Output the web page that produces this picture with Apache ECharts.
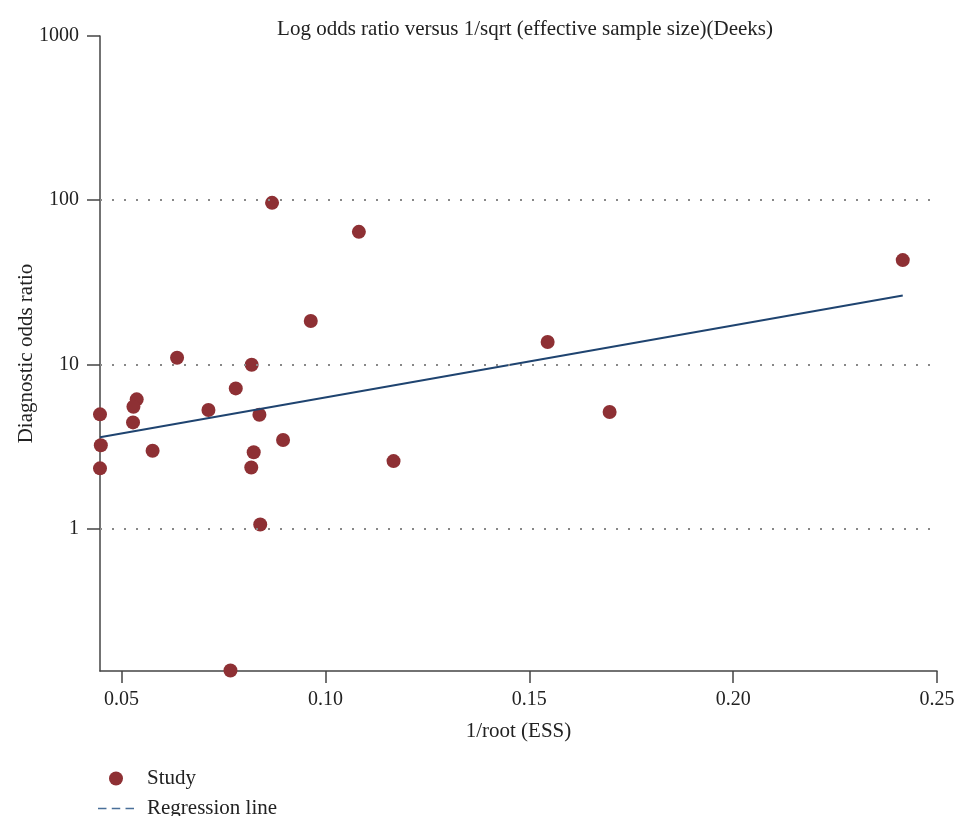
<!DOCTYPE html>
<html>
<head>
<meta charset="utf-8">
<script src="https://cdn.jsdelivr.net/npm/echarts@6/dist/echarts.min.js"></script>
<style>
  html, body { margin: 0; padding: 0; background: #fff; }
  #chart { width: 955px; height: 816px; }
</style>
</head>
<body>
<div id="chart"></div>
<script>
// studies: 1/sqrt(ESS) and diagnostic odds ratio
var essX = [0.0447, 0.0449, 0.0447, 0.0537, 0.0529, 0.0528, 0.0576, 0.0636, 0.0713, 0.0780, 0.0819,
            0.0838, 0.0824, 0.0818, 0.0896, 0.0840, 0.0767, 0.0869, 0.1082, 0.0964, 0.1167, 0.1545,
            0.1697, 0.2416];
var dorY = [4.97, 3.22, 2.33, 6.13, 5.53, 4.44, 2.98, 10.98, 5.28, 7.15, 9.96,
            4.94, 2.92, 2.36, 3.47, 1.06, 0.137, 96.4, 64.2, 18.4, 2.58, 13.7,
            5.13, 43.2];
// regression line end points
var regX = [0.0447, 0.2416];
var regY = [3.60, 26.3];

var xTicks = [0.05, 0.10, 0.15, 0.20, 0.25];
var yTicks = [1, 10, 100, 1000];
var yGrid = [1, 10, 100];

var serif = 'Liberation Serif';
var chart = echarts.init(document.getElementById('chart'));

var studyData = [];
for (var i = 0; i < dorY.length; i++) {
    studyData.push([essX[i], dorY[i]]);
}
var regData = regX.map(function (x, i) { return [x, regY[i]]; });

chart.setOption({
    animation: false,
    title: {
        text: 'Log odds ratio versus 1/sqrt (effective sample size)(Deeks)',
        left: 520, textAlign: 'center', top: 14,
        textStyle: {fontFamily: serif, fontSize: 21, fontWeight: 'normal', color: '#222'}
    },
    grid: {left: 100, right: 18, top: 36, bottom: 145, containLabel: false, outerBoundsMode: 'none'},
    legend: {
        orient: 'vertical', left: 93, top: 763, height: 120, itemGap: 9,
        itemWidth: 36, itemHeight: 14,
        textStyle: {fontFamily: serif, fontSize: 21, color: '#222', padding: [0, 0, 0, 8]},
        data: [
            {name: 'Study', icon: 'circle'},
            {name: 'Regression line', icon: 'path://M0,0h8v1.5h-8zM13,0h8v1.5h-8zM26,0h8v1.5h-8z',
                itemStyle: {color: '#4a6f99'}}
        ]
    },
    xAxis: {
        type: 'value', min: 0.0447, max: 0.25,
        name: '1/root (ESS)', nameLocation: 'middle', nameGap: 50,
        nameTextStyle: {fontFamily: serif, fontSize: 21, color: '#222'},
        axisLine: {lineStyle: {color: '#444', width: 1.5}},
        axisTick: {length: 12, customValues: xTicks, lineStyle: {color: '#444', width: 1.5}},
        axisLabel: {customValues: xTicks, margin: 19, fontFamily: serif, fontSize: 20, color: '#222',
            formatter: function (v) { return v.toFixed(2); }},
        splitLine: {show: false}
    },
    yAxis: {
        type: 'log', logBase: 10, min: 0.136, max: 1000,
        name: 'Diagnostic odds ratio', nameLocation: 'middle', nameGap: 63, nameMoveOverlap: false,
        nameTextStyle: {fontFamily: serif, fontSize: 21, color: '#222'},
        axisLine: {show: true, lineStyle: {color: '#444', width: 1.5}},
        axisTick: {show: true, length: 13, customValues: yTicks, lineStyle: {color: '#444', width: 1.5}},
        axisLabel: {customValues: yTicks, margin: 21, fontFamily: serif, fontSize: 20, color: '#222',
            formatter: function (v) { return String(Math.round(v)); }},
        splitLine: {show: false}
    },
    series: [
        {
            name: 'Study', type: 'scatter', symbolSize: 14, z: 3,
            itemStyle: {color: '#8e3034', opacity: 1},
            data: studyData,
            markLine: {
                silent: true, symbol: 'none', animation: false,
                label: {show: false},
                lineStyle: {type: [2, 10], color: '#888', width: 2},
                data: yGrid.map(function (v) { return {yAxis: v}; })
            }
        },
        {
            name: 'Regression line', type: 'line', symbol: 'none', z: 4,
            lineStyle: {color: '#1f4470', width: 2},
            itemStyle: {color: '#1f4470'},
            data: regData
        }
    ]
});
</script>
</body>
</html>
